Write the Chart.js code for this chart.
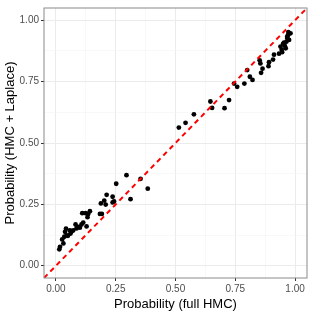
<!DOCTYPE html>
<html>
<head>
<meta charset="utf-8">
<script src="https://cdn.jsdelivr.net/npm/chart.js@4"></script>
<style>
html,body{margin:0;padding:0;background:#fff;}
#wrap{width:312px;height:312px;}
</style>
</head>
<body>
<div id="wrap"><canvas id="c" width="312" height="312"></canvas></div>
<script>
// Data
const fullHMC = [
  0.514,0.542,0.577,0.646,0.653,0.705,0.724,0.745,0.758,0.788,0.800,0.811,0.822,
  0.852,0.855,0.858,0.864,0.889,0.891,0.908,0.912,0.933,0.946,0.939,0.950,0.957,
  0.964,0.968,0.971,0.981,0.975,0.961,0.954,0.967,0.944,0.972,
  0.295,0.354,0.384,0.252,0.312,0.212,0.237,0.237,0.243,0.202,0.188,0.208,0.184,0.192,
  0.142,0.135,0.124,0.110,0.132,0.114,0.107,0.128,0.093,0.082,0.072,0.058,0.042,0.038,
  0.045,0.035,0.026,0.031,0.017,0.014,0.050,0.061,0.086,0.100,0.066
];
const hmcLaplace = [
  0.563,0.582,0.617,0.669,0.643,0.642,0.675,0.742,0.729,0.742,0.797,0.770,0.757,
  0.837,0.824,0.786,0.803,0.813,0.829,0.840,0.860,0.864,0.870,0.893,0.904,0.896,
  0.913,0.927,0.940,0.947,0.920,0.886,0.909,0.933,0.880,0.952,
  0.369,0.354,0.314,0.334,0.271,0.289,0.281,0.258,0.262,0.265,0.254,0.249,0.211,0.211,
  0.222,0.211,0.214,0.214,0.198,0.176,0.168,0.160,0.158,0.168,0.144,0.144,0.151,0.138,
  0.124,0.118,0.107,0.091,0.077,0.067,0.122,0.131,0.152,0.155,0.140
];
const identityLine = [-0.05, 1.05];
const majorTicks = [0, 0.25, 0.5, 0.75, 1];
const minorTicks = [0.125, 0.375, 0.625, 0.875];
const tickLabels = ["0.00", "0.25", "0.50", "0.75", "1.00"];
const xTitle = "Probability (full HMC)";
const yTitle = "Probability (HMC + Laplace)";

const points = fullHMC.map((x, i) => ({x: x, y: hmcLaplace[i]}));
const linePts = identityLine.map(v => ({x: v, y: v}));
const allTicks = majorTicks.concat(minorTicks).sort((a, b) => a - b);
const isMajor = v => majorTicks.some(m => Math.abs(m - v) < 1e-9);
const labelFor = v => { const i = majorTicks.findIndex(m => Math.abs(m - v) < 1e-9); return i >= 0 ? tickLabels[i] : ''; };

const FONT = "'Liberation Sans', Arial, sans-serif";

const borderPlugin = {
  id: 'panelBorder',
  afterDatasetsDraw(chart) {
    const a = chart.chartArea, ctx = chart.ctx;
    ctx.save();
    ctx.strokeStyle = '#8a8a8a';
    ctx.lineWidth = 1;
    ctx.strokeRect(a.left, a.top, a.right - a.left, a.bottom - a.top);
    ctx.restore();
  }
};

function axisCommon(isY) {
  return {
    type: 'linear',
    min: -0.05,
    max: 1.05,
    afterBuildTicks: s => { s.ticks = allTicks.map(v => ({value: v})); },
    ticks: {
      autoSkip: false,
      maxRotation: 0,
      minRotation: 0,
      color: '#4d4d4d',
      font: {family: FONT, size: 10},
      padding: 2,
      callback: v => labelFor(v)
    },
    grid: {
      color: c => isMajor(c.tick.value) ? '#ebebeb' : '#f4f4f4',
      lineWidth: c => isMajor(c.tick.value) ? 1 : 0.6,
      tickColor: c => isMajor(c.tick.value) ? '#333333' : 'rgba(0,0,0,0)',
      tickLength: 3,
      drawTicks: true
    },
    border: {display: false},
    title: {
      display: true,
      text: isY ? yTitle : xTitle,
      color: '#000',
      font: {family: FONT, size: 13},
      padding: isY ? {top: 0, bottom: 2} : {top: 1, bottom: 0}
    }
  };
}

const xAxis = axisCommon(false);
xAxis.afterFit = s => { s.height = 34; };
const yAxis = axisCommon(true);
yAxis.afterFit = s => { s.width = 41; };

new Chart(document.getElementById('c'), {
  type: 'scatter',
  data: {
    datasets: [
      {
        type: 'line',
        data: linePts,
        borderColor: '#ff0000',
        borderWidth: 2,
        borderDash: [5, 4],
        pointRadius: 0,
        fill: false,
        order: 0
      },
      {
        data: points,
        backgroundColor: '#000',
        borderColor: '#000',
        pointRadius: 2.4,
        borderWidth: 0,
        order: 1
      }
    ]
  },
  options: {
    responsive: false,
    animation: false,
    layout: {padding: {left: 3, right: 5, top: 5, bottom: 0}},
    plugins: {legend: {display: false}, tooltip: {enabled: false}},
    scales: {x: xAxis, y: yAxis}
  },
  plugins: [borderPlugin]
});
</script>
</body>
</html>
